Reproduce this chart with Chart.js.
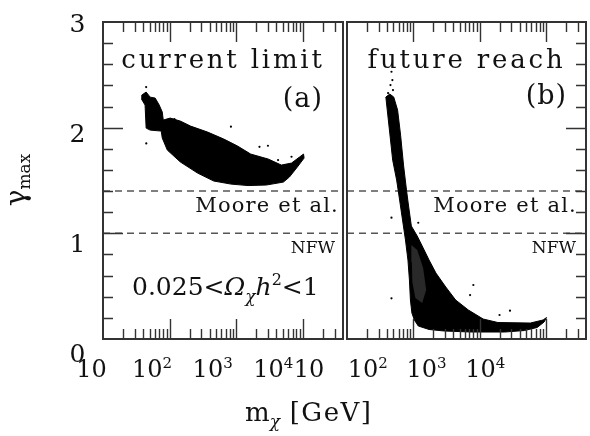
<!DOCTYPE html>
<html>
<head>
<meta charset="utf-8">
<script src="https://cdn.jsdelivr.net/npm/chart.js@4.4.0/dist/chart.umd.min.js"></script>
<style>
  body { margin: 0; background: #fff; }
  #wrap { position: relative; width: 590px; height: 436px; }
  canvas { position: absolute; left: 0; top: 0; }
</style>
</head>
<body>
<div id="wrap">
  <canvas id="panelA" width="590" height="436"></canvas>
  <canvas id="panelB" width="590" height="436"></canvas>
</div>
<script>
// axis ranges and labels
const X_MIN = 10, X_MAX = 40000;
const Y_MIN = 0, Y_MAX = 3;
const xLabelValues = [10, 100, 1000, 10000];
const xLabelExps = ['', '2', '3', '4'];
const yLabelValues = [0, 1, 2, 3];
const yMoore = 1.4;
const yNFW = 1.0;

// (a) current limit - outline of the dense cloud of models (m in GeV, gamma)
const massA = [38.2, 44.4, 51, 60.7, 69.8, 77.5, 80.3, 101.9, 145, 206, 372, 651, 1047, 1648, 3020,
  4750, 6750, 8910, 10230, 10420, 8040, 6280, 5100, 2820, 1503, 832, 459, 263, 145, 92.3, 77.5, 74.8,
  51, 44.4, 42.8, 37.9];
const gammaA = [2.308, 2.337, 2.289, 2.280, 2.214, 2.148, 2.072, 2.091, 2.062, 2.015, 1.958, 1.892,
  1.826, 1.750, 1.703, 1.646, 1.665, 1.722, 1.750, 1.712, 1.618, 1.533, 1.485, 1.457, 1.452, 1.466,
  1.495, 1.570, 1.675, 1.788, 1.902, 1.968, 1.977, 1.996, 2.214, 2.270];
// loose models outside the cloud
const strayMassA = [44.4, 44.6, 832, 2230, 2990, 6750, 4240, 118];
const strayGammaA = [2.384, 1.851, 2.009, 1.819, 1.829, 1.725, 1.693, 2.08];

// (b) future reach
const massB = [38.5, 41.2, 44.1, 48.8, 56.0, 62.1, 68.7, 76.1, 82.9, 87.3, 90.3, 95.1, 103.5, 118.6,
  172.6, 288, 748, 2386, 4720, 7360, 9340, 10170, 9030, 5800, 1880, 1127, 676, 434, 308, 219, 172.6,
  135.9, 114.5, 93.3, 84.3, 78.8, 71.1, 64.2, 57.9, 50.6, 44.1];
const gammaB = [2.290, 2.119, 1.949, 1.693, 1.504, 1.315, 1.126, 0.937, 0.747, 0.558, 0.369, 0.246,
  0.180, 0.123, 0.090, 0.076, 0.066, 0.066, 0.080, 0.109, 0.161, 0.203, 0.180, 0.151, 0.156, 0.189,
  0.274, 0.369, 0.492, 0.624, 0.747, 0.880, 0.974, 1.069, 1.268, 1.410, 1.646, 1.930, 2.167, 2.290, 2.318];
// thinner (speckled) part inside the band
const holeMassB = [93.3, 114.5, 140.6, 156, 135.9, 107.2, 96.6, 95];
const holeGammaB = [0.889, 0.842, 0.672, 0.464, 0.341, 0.388, 0.539, 0.728];
const strayMassB = [46.8, 48.3, 45.2, 49.3, 41.6, 46.8, 46.8, 118.6, 802, 716, 2860, 1990];
const strayGammaB = [2.529, 2.450, 2.403, 2.356, 2.327, 1.148, 0.385, 1.100, 0.511, 0.416, 0.268, 0.227];

const SERIF = "'DejaVu Serif', serif";

// tick marks: majors at decades, minors at 2..9
const xTicks = [];
[10, 100, 1000, 10000].forEach(d => {
  for (let k = 1; k < 10; k++) {
    if (d * k <= X_MAX) xTicks.push({ v: d * k, major: k === 1 });
  }
});
const yTicks = [];
for (let i = 0; i <= 15; i++) yTicks.push({ v: i / 5, major: i % 5 === 0 });

const PANELS = {
  panelA: {
    padding: { left: 103, right: 247, top: 22, bottom: 97 },
    ySide: 'left', labelMap: [-2.1, 0.909],
    title: 'current limit', tag: '(a)', tagRight: 20, tagBase: 107,
    mooreRight: 4, nfwRight: 8, axisText: true
  },
  panelB: {
    padding: { left: 347, right: 1, top: 22, bottom: 97 },
    ySide: 'right', labelMap: [1.5, 0.886],
    title: 'future reach', tag: '(b)', tagRight: 19, tagBase: 104,
    mooreRight: 9, nfwRight: 10, axisText: false
  }
};

function toPoints(xs, ys, close) {
  const pts = xs.map((x, i) => ({ x: x, y: ys[i] }));
  if (close) pts.push(pts[0]);
  return pts;
}

function cloud(xs, ys, color, bw) {
  return {
    data: toPoints(xs, ys, true), showLine: true, fill: 'shape', tension: 0,
    backgroundColor: color, borderColor: color, borderWidth: bw, pointRadius: 0, order: 1
  };
}

function strays(xs, ys) {
  return { data: toPoints(xs, ys, false), pointRadius: 1.1, backgroundColor: '#000', borderWidth: 0, order: 1 };
}

function refLine(yv) {
  return {
    data: [{ x: X_MIN, y: yv }, { x: X_MAX, y: yv }], showLine: true, fill: false,
    borderColor: '#555', borderWidth: 1.5, borderDash: [7, 5], pointRadius: 0, order: 3
  };
}

// draws a run of text pieces (font, raise) starting / centred / ending at x
function rich(ctx, parts, x, y, align) {
  ctx.textAlign = 'left';
  let w = 0;
  parts.forEach(p => {
    ctx.font = p.font;
    ctx.letterSpacing = (p.sp || 0) + 'px';
    p.w = ctx.measureText(p.t).width;
    w += p.w;
  });
  let cx = align === 'center' ? x - w / 2 : align === 'right' ? x - w : x;
  parts.forEach(p => {
    ctx.font = p.font;
    ctx.letterSpacing = (p.sp || 0) + 'px';
    ctx.fillText(p.t, cx, y + (p.dy || 0));
    cx += p.w;
  });
  ctx.letterSpacing = '0px';
}

const deco = {
  id: 'deco',
  afterDraw(chart) {
    const p = PANELS[chart.canvas.id];
    const ctx = chart.ctx, a = chart.chartArea;
    const sx = chart.scales.x, sy = chart.scales.y;
    ctx.save();

    // inward ticks
    ctx.strokeStyle = '#333';
    ctx.lineWidth = 1.4;
    ctx.beginPath();
    xTicks.forEach(t => {
      const px = Math.round(sx.getPixelForValue(t.v)) + 0.5;
      if (px <= a.left + 1 || px >= a.right - 1) return;
      const len = t.major ? 20 : 10;
      ctx.moveTo(px, a.bottom); ctx.lineTo(px, a.bottom - len);
      ctx.moveTo(px, a.top); ctx.lineTo(px, a.top + len);
    });
    const x0 = p.ySide === 'left' ? a.left : a.right;
    const dir = p.ySide === 'left' ? 1 : -1;
    yTicks.forEach(t => {
      const py = Math.round(sy.getPixelForValue(t.v)) + 0.5;
      if (py <= a.top + 1 || py >= a.bottom - 1) return;
      const len = t.major ? 20 : 10;
      ctx.moveTo(x0, py); ctx.lineTo(x0 + dir * len, py);
    });
    ctx.stroke();

    // frame
    ctx.lineWidth = 2;
    ctx.strokeRect(a.left, a.top, a.right - a.left, a.bottom - a.top);

    ctx.fillStyle = '#111';
    ctx.textBaseline = 'alphabetic';

    // x tick labels (set on a slightly tighter grid than the ticks, as in the original)
    xLabelValues.forEach((v, i) => {
      const lx = p.labelMap[0] + p.labelMap[1] * sx.getPixelForValue(v);
      const parts = [{ t: '10', font: '24px ' + SERIF }];
      if (xLabelExps[i]) parts.push({ t: xLabelExps[i], font: '15px ' + SERIF, dy: -9 });
      rich(ctx, parts, lx, a.bottom + 38, 'center');
    });

    // panel text
    const mid = (a.left + a.right) / 2;
    rich(ctx, [{ t: p.title, font: '26px ' + SERIF, sp: 2.8 }], mid, a.top + 46, 'center');
    rich(ctx, [{ t: p.tag, font: '27px ' + SERIF, sp: 1 }], a.right - p.tagRight, p.tagBase, 'right');
    rich(ctx, [{ t: 'Moore et al.', font: '21px ' + SERIF, sp: 1.2 }], a.right - p.mooreRight,
      sy.getPixelForValue(yMoore) + 21, 'right');
    rich(ctx, [{ t: 'NFW', font: '17px ' + SERIF }], a.right - p.nfwRight,
      sy.getPixelForValue(yNFW) + 20, 'right');

    if (p.axisText) {
      rich(ctx, [
        { t: '0.025<', font: '25px ' + SERIF },
        { t: 'Ω', font: 'italic 25px ' + SERIF },
        { t: 'χ', font: 'italic 17px ' + SERIF, dy: 7 },
        { t: 'h', font: 'italic 25px ' + SERIF },
        { t: '2', font: '16px ' + SERIF, dy: -10 },
        { t: '<1', font: '25px ' + SERIF }
      ], a.left + 29, 295, 'left');

      // y tick labels
      yLabelValues.forEach(v => {
        const ly = -0.4 + 1.043 * sy.getPixelForValue(v);
        rich(ctx, [{ t: String(v), font: '25px ' + SERIF }], 77.5, ly + 9, 'center');
      });

      // axis titles
      rich(ctx, [
        { t: 'm', font: '26px ' + SERIF },
        { t: 'χ', font: 'italic 17px ' + SERIF, dy: 6 },
        { t: ' [GeV]', font: '26px ' + SERIF, sp: 1.5 }
      ], 245, 421, 'left');

      ctx.save();
      ctx.translate(21, 180);
      ctx.rotate(-Math.PI / 2);
      rich(ctx, [
        { t: 'γ', font: '28px ' + SERIF },
        { t: 'max', font: '17px ' + SERIF, dy: 5 }
      ], 0, 4, 'center');
      ctx.restore();
    }
    ctx.restore();
  }
};

function makePanel(id, datasets) {
  return new Chart(document.getElementById(id), {
    type: 'scatter',
    data: { datasets: datasets },
    options: {
      responsive: false,
      animation: false,
      events: [],
      layout: { padding: PANELS[id].padding },
      scales: {
        x: { type: 'logarithmic', min: X_MIN, max: X_MAX, display: false },
        y: { type: 'linear', min: Y_MIN, max: Y_MAX, display: false }
      },
      plugins: { legend: { display: false }, tooltip: { enabled: false } }
    },
    plugins: [deco]
  });
}

makePanel('panelA', [
  cloud(massA, gammaA, '#000', 1),
  strays(strayMassA, strayGammaA),
  refLine(yMoore),
  refLine(yNFW)
]);

const holeB = cloud(holeMassB, holeGammaB, 'rgba(255,255,255,0.16)', 0);
holeB.order = 0;
makePanel('panelB', [
  holeB,
  cloud(massB, gammaB, '#000', 1),
  strays(strayMassB, strayGammaB),
  refLine(yMoore),
  refLine(yNFW)
]);
</script>
</body>
</html>
